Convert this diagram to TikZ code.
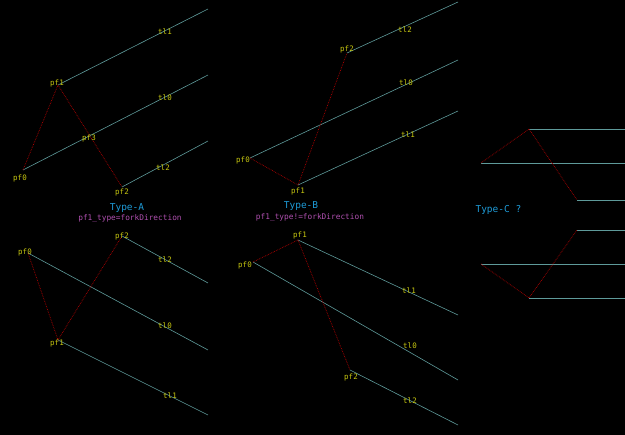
\documentclass[tikz,border=0pt]{standalone}
\usepackage{fontspec}
\setmonofont{DejaVu Sans Mono}
\definecolor{tlcol}{HTML}{5E9A9A}
\definecolor{pfcol}{HTML}{C8C810}
\definecolor{forkcol}{HTML}{B00000}
\definecolor{typecol}{HTML}{1E9BD7}
\definecolor{condcol}{HTML}{B050B0}
\tikzset{every picture/.style={/utils/exec={\ttfamily}}}
\tikzset{
  pt/.style={inner sep=0pt},
  tl/.style={draw=tlcol, line width=0.6pt},
  fork/.style={draw=forkcol, densely dotted, line width=0.7pt},
  pflabel/.style={text=pfcol, font=\ttfamily\fontsize{7.5}{8}\selectfont, inner sep=1pt},
  typelabel/.style={text=typecol, font=\ttfamily\fontsize{9.5}{10}\selectfont},
  condlabel/.style={text=condcol, font=\ttfamily\fontsize{7.8}{8}\selectfont}
}
\begin{document}
\begin{tikzpicture}[x=1pt,y=-1pt]
  \fill[black] (0,0) rectangle (625,435);
  \useasboundingbox (0,0) rectangle (625,435);

  % Type-A, upper
  \coordinate (a0) at (23,170);
  \coordinate (a1) at (58,85);
  \coordinate (a2) at (122,187);
  \coordinate (a0e) at (208,75);
  \coordinate (a1e) at (208,9);
  \coordinate (a2e) at (208,141);
  \draw[tl] (a0) -- (a0e);
  \draw[tl] (a1) -- (a1e);
  \draw[tl] (a2) -- (a2e);
  \draw[fork] (a0) -- (a1) -- (a2);
  \node[pflabel] at (20,178) {pf0};
  \node[pflabel] at (57,83) {pf1};
  \node[pflabel] at (122,192) {pf2};
  \node[pflabel] at (89,138) {pf3};
  \node[pflabel] at (165,32) {tl1};
  \node[pflabel] at (165,98) {tl0};
  \node[pflabel] at (163,168) {tl2};
  \node[typelabel] at (127,208) {Type-A};
  \node[condlabel] at (130,218) {pf1\_type=forkDirection};

  % Type-A, lower
  \coordinate (c0) at (28,253);
  \coordinate (c1) at (58,340);
  \coordinate (c2) at (122,236);
  \draw[tl] (c0) -- (208,350);
  \draw[tl] (c1) -- (208,415);
  \draw[tl] (c2) -- (208,283);
  \draw[fork] (c0) -- (c1) -- (c2);
  \node[pflabel] at (25,252) {pf0};
  \node[pflabel] at (57,343) {pf1};
  \node[pflabel] at (122,236) {pf2};
  \node[pflabel] at (165,326) {tl0};
  \node[pflabel] at (170,396) {tl1};
  \node[pflabel] at (165,260) {tl2};

  % Type-B, upper
  \coordinate (b0) at (250,158);
  \coordinate (b1) at (298,185);
  \coordinate (b2) at (347,53);
  \draw[tl] (b0) -- (458,60);
  \draw[tl] (b1) -- (458,111);
  \draw[tl] (b2) -- (458,2);
  \draw[fork] (b0) -- (b1) -- (b2);
  \node[pflabel] at (243,160) {pf0};
  \node[pflabel] at (298,191) {pf1};
  \node[pflabel] at (347,49) {pf2};
  \node[pflabel] at (406,83) {tl0};
  \node[pflabel] at (408,135) {tl1};
  \node[pflabel] at (405,30) {tl2};
  \node[typelabel] at (301,206) {Type-B};
  \node[condlabel] at (310,217) {pf1\_type!=forkDirection};

  % Type-B, lower
  \coordinate (d0) at (253,262);
  \coordinate (d1) at (298,240);
  \coordinate (d2) at (350,370);
  \draw[tl] (d0) -- (458,380);
  \draw[tl] (d1) -- (458,315);
  \draw[tl] (d2) -- (458,425);
  \draw[fork] (d0) -- (d1) -- (d2);
  \node[pflabel] at (245,265) {pf0};
  \node[pflabel] at (300,235) {pf1};
  \node[pflabel] at (351,377) {pf2};
  \node[pflabel] at (410,346) {tl0};
  \node[pflabel] at (409,291) {tl1};
  \node[pflabel] at (410,401) {tl2};

  % Type-C
  \coordinate (e0) at (481,163);
  \coordinate (e1) at (529,129);
  \coordinate (e2) at (577,200);
  \coordinate (f0) at (481,264);
  \coordinate (f1) at (529,298);
  \coordinate (f2) at (577,230);
  \foreach \p in {e0,e1,e2,f0,f1,f2}
    \draw[tl] (\p) -- (\p -| 625,0);
  \draw[fork] (e0) -- (e1) -- (e2);
  \draw[fork] (f0) -- (f1) -- (f2);
  \node[typelabel, anchor=west] at (472,210) {Type-C ?};
\end{tikzpicture}
\end{document}
